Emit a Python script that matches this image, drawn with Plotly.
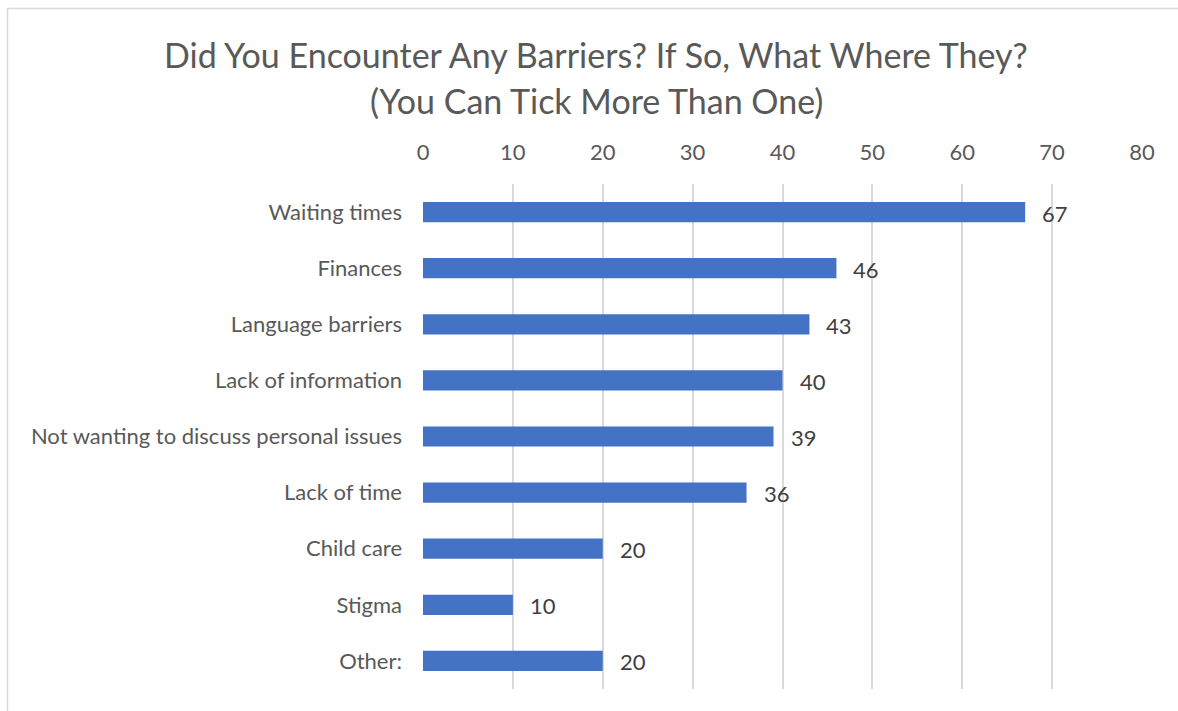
import plotly.graph_objects as go

# Survey responses: barriers encountered (multiple answers allowed)
categories = [
    "Waiting times",
    "Finances",
    "Language barriers",
    "Lack of information",
    "Not wanting to discuss personal issues",
    "Lack of time",
    "Child care",
    "Stigma",
    "Other:",
]
counts = [67, 46, 43, 40, 39, 36, 20, 10, 20]
x_ticks = [0, 10, 20, 30, 40, 50, 60, 70, 80]
title_lines = [
    "Did You Encounter Any Barriers? If So, What Where They?",
    "(You Can Tick More Than One)",
]

W, H = 1178, 711
ML, MR, MT, MB = 423, 36, 184, 22
PW, PH = W - ML - MR, H - MT - MB

FONT = "Lato, 'Open Sans', sans-serif"
BAR = "#4472C4"
GRID = "#D9D9D9"
TXT = "#595959"


def px_to_paper_x(px):
    return (px - ML) / PW


def px_to_paper_y(py):
    return (H - MB - py) / PH


fig = go.Figure(
    go.Bar(
        x=counts,
        y=categories,
        orientation="h",
        marker=dict(color=BAR, line=dict(width=0)),
        width=0.36,
        hoverinfo="x+y",
    )
)

# value labels just past the end of each bar
for c, v in zip(categories, counts):
    fig.add_annotation(
        x=v, y=c, text=str(v), showarrow=False,
        xanchor="left", yanchor="middle", xshift=15, yshift=-1,
        font=dict(family=FONT, size=22, color="#404040"),
    )

# two-line chart title
for line, cy in zip(title_lines, [54, 100]):
    fig.add_annotation(
        xref="paper", yref="paper",
        x=px_to_paper_x(596), y=px_to_paper_y(cy),
        text=line, showarrow=False,
        xanchor="center", yanchor="middle",
        font=dict(family=FONT, size=34, color=TXT),
    )

# chart-area outline (light frame)
fig.add_shape(
    type="rect", xref="paper", yref="paper",
    x0=px_to_paper_x(7.5), x1=1.2,
    y0=-0.2, y1=px_to_paper_y(8.5),
    line=dict(color=GRID, width=1.5), layer="below",
)

fig.update_layout(
    width=W, height=H,
    margin=dict(l=ML, r=MR, t=MT, b=MB, autoexpand=False),
    paper_bgcolor="white", plot_bgcolor="white",
    showlegend=False,
)

fig.update_xaxes(
    side="top", range=[0, 80], tickvals=x_ticks,
    showgrid=True, gridcolor=GRID, gridwidth=1.5,
    zeroline=False, showline=False, ticks="",
    tickfont=dict(family=FONT, size=22, color=TXT),
    ticklabelstandoff=19, fixedrange=True,
)
fig.update_yaxes(
    categoryorder="array", categoryarray=categories, autorange="reversed",
    showgrid=False, zeroline=False, showline=False, ticks="",
    tickfont=dict(family=FONT, size=22, color=TXT),
    ticklabelstandoff=20, fixedrange=True,
)

fig.write_html("out.html")
